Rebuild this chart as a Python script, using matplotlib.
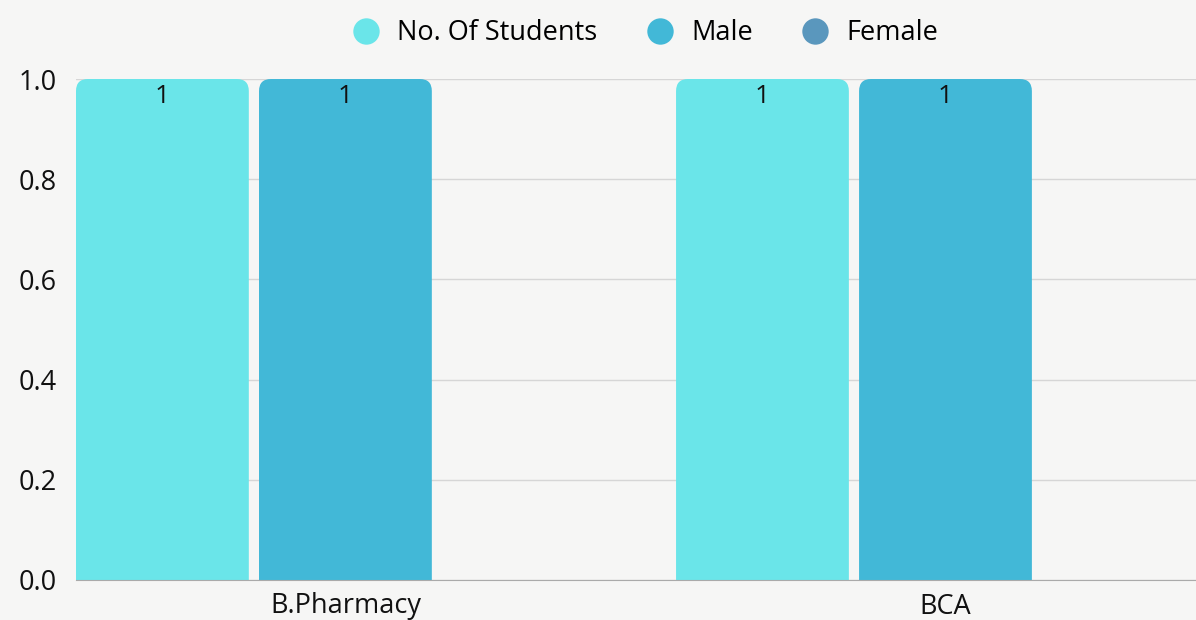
import numpy as np
import matplotlib.pyplot as plt
from matplotlib.patches import FancyBboxPatch
from matplotlib.lines import Line2D

plt.rcParams['font.family'] = ['Open Sans', 'DejaVu Sans']

# data
courses = ["B.Pharmacy", "BCA"]
series = ["No. Of Students", "Male", "Female"]
students = [1, 1]
male = [1, 1]
female = [0, 0]
colors = ["#6ae5e9", "#42b8d7", "#5a97bd"]

bg = "#f6f6f5"
fig = plt.figure(figsize=(11.96, 6.2), dpi=100, facecolor=bg)
ax = fig.add_axes([76 / 1196, 40 / 620, 1120 / 1196, 501 / 620])
ax.set_facecolor(bg)

x = np.arange(len(courses))
w = 0.288
step = 0.305
values = [students, male, female]

ax.set_xlim(-0.449, 1.4175)
ax.set_ylim(0, 1.0)

# rounded top corners, bottom ones pushed below the axis and clipped away
r = 0.02
aspect = (1 / 501) / (1 / 600)
for i, (vals, c) in enumerate(zip(values, colors)):
    bars = ax.bar(x + (i - 1) * step, vals, w, color=c, zorder=3)
    for b, v in zip(bars, vals):
        b.set_visible(False)
        if v <= 0:
            continue
        bx, bw, bh = b.get_x(), b.get_width(), b.get_height()
        p = FancyBboxPatch((bx, -0.1), bw, bh + 0.1,
                           boxstyle="round,pad=0,rounding_size=%f" % r,
                           mutation_aspect=aspect, fc=c, ec="none", zorder=3)
        ax.add_patch(p)
        p.set_clip_box(ax.bbox)
        ax.text(bx + bw / 2, bh - 0.01, "%g" % v, ha="center", va="top",
                fontsize=19, color="#111111", zorder=4)

ax.set_yticks(np.arange(0, 1.01, 0.2))
ax.set_yticklabels(["%.1f" % t for t in np.arange(0, 1.01, 0.2)])
ax.set_xticks(x)
ax.set_xticklabels(courses)
ax.tick_params(axis="both", length=0, labelsize=19.5, colors="#111111")
ax.tick_params(axis="y", pad=14)
ax.tick_params(axis="x", pad=9)
ax.grid(axis="y", color="#d6d6d6", linewidth=1, zorder=0)
for s in ["top", "right", "left"]:
    ax.spines[s].set_visible(False)
ax.spines["bottom"].set_color("#aaaaaa")
ax.spines["bottom"].set_zorder(5)

handles = [Line2D([], [], marker="o", linestyle="none", markersize=19,
                  markerfacecolor=c, markeredgecolor="none") for c in colors]
fig.legend(handles, series, loc="center", bbox_to_anchor=(0.534, 1 - 33 / 620),
           ncol=3, frameon=False, fontsize=19.5, handletextpad=0.15,
           columnspacing=1.3)

fig.savefig("out.png", dpi=100, facecolor=bg)
